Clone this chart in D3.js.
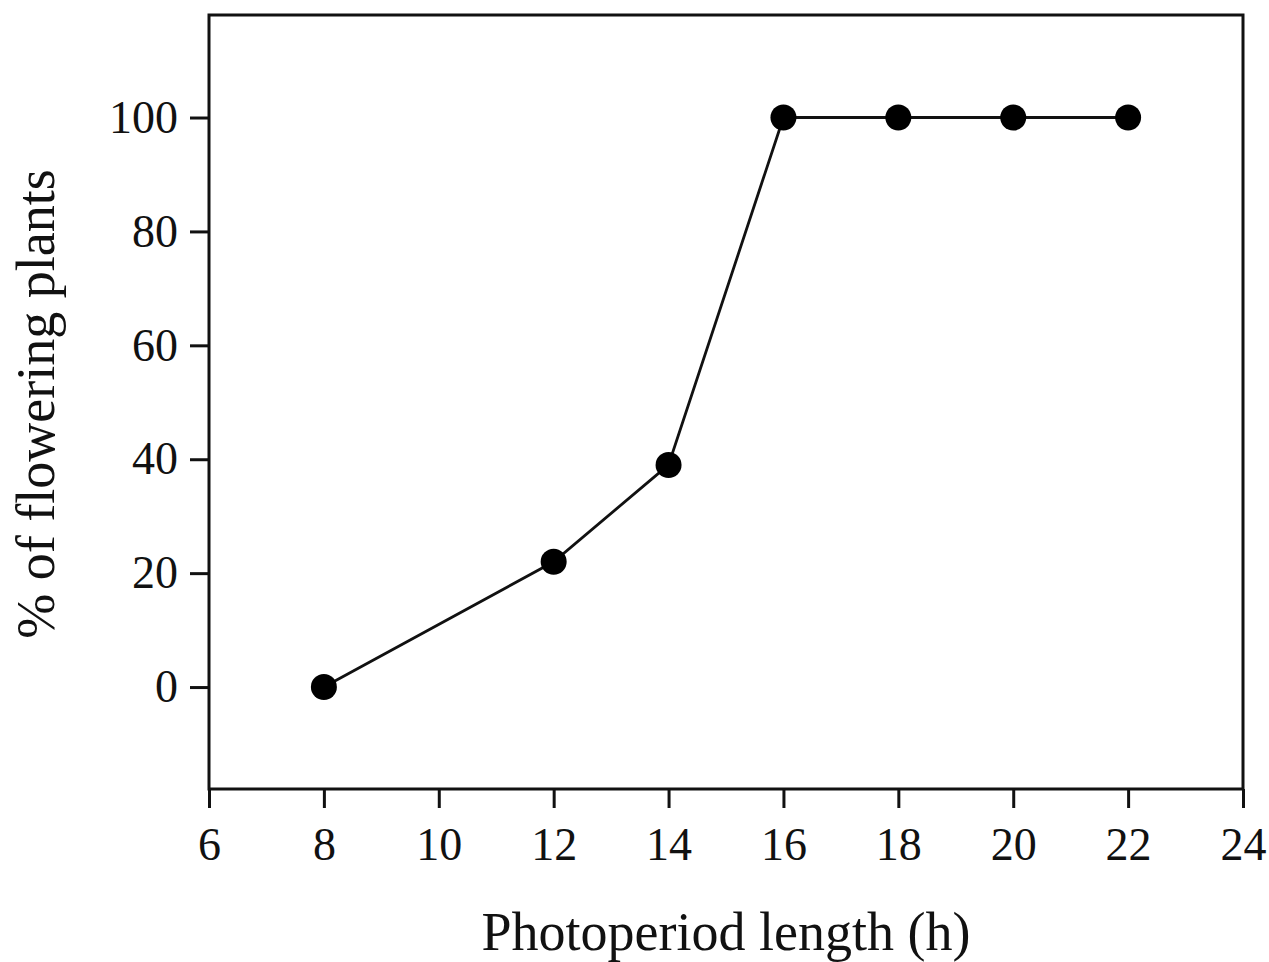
<!DOCTYPE html>
<html>
<head>
<meta charset="utf-8">
<script src="https://cdn.jsdelivr.net/npm/d3@7"></script>
<style>
  body { margin: 0; background: #fff; }
  svg text { font-family: "Liberation Serif", "Times New Roman", serif; fill: #111; }
</style>
</head>
<body>
<svg id="chart"></svg>
<script>
// data
var hours = [8, 12, 14, 16, 18, 20, 22];
var flowering = [0, 22, 39, 100, 100, 100, 100];
var xTicks = [6, 8, 10, 12, 14, 16, 18, 20, 22, 24];
var yTicks = [0, 20, 40, 60, 80, 100];

var svgwidth = 1269, svgheight = 962;
var plotLeft = 209, plotRight = 1243, plotTop = 15, plotBottom = 789;

var svg = d3.select("#chart")
    .attr("width", svgwidth)
    .attr("height", svgheight);

var x = d3.scaleLinear().domain([6, 24]).range([plotLeft, plotRight]);
var y = d3.scaleLinear().domain([-17.9, 118]).range([plotBottom, plotTop]);

// frame
svg.append("rect")
    .attr("x", plotLeft).attr("y", plotTop)
    .attr("width", plotRight - plotLeft).attr("height", plotBottom - plotTop)
    .attr("fill", "none").attr("stroke", "#111").attr("stroke-width", 3);

var xAxis = svg.append("g")
    .attr("transform", "translate(0," + plotBottom + ")")
    .call(d3.axisBottom(x).tickValues(xTicks).tickSize(19).tickPadding(19));

var yAxis = svg.append("g")
    .attr("transform", "translate(" + plotLeft + ",0)")
    .call(d3.axisLeft(y).tickValues(yTicks).tickSize(19).tickPadding(12));

[xAxis, yAxis].forEach(function (g) {
    g.select(".domain").remove();
    g.selectAll("line").attr("stroke", "#111").attr("stroke-width", 3);
    g.selectAll("text").attr("font-size", 46).attr("font-family", "Liberation Serif").attr("fill", "#111");
});

var line = d3.line()
    .x(function (d, i) { return x(hours[i]); })
    .y(function (d) { return y(d); });

svg.append("path")
    .datum(flowering)
    .attr("d", line)
    .attr("fill", "none")
    .attr("stroke", "#111")
    .attr("stroke-width", 2.8);

svg.selectAll("circle")
    .data(flowering)
    .enter()
    .append("circle")
    .attr("cx", function (d, i) { return x(hours[i]); })
    .attr("cy", function (d) { return y(d); })
    .attr("r", 13)
    .attr("fill", "#000");

svg.append("text")
    .attr("x", (plotLeft + plotRight) / 2)
    .attr("y", 950)
    .attr("text-anchor", "middle")
    .attr("font-size", 54)
    .text("Photoperiod length (h)");

svg.append("text")
    .attr("transform", "translate(54," + ((plotTop + plotBottom) / 2 + 2) + ") rotate(-90)")
    .attr("text-anchor", "middle")
    .attr("font-size", 54)
    .text("% of flowering plants");
</script>
</body>
</html>
